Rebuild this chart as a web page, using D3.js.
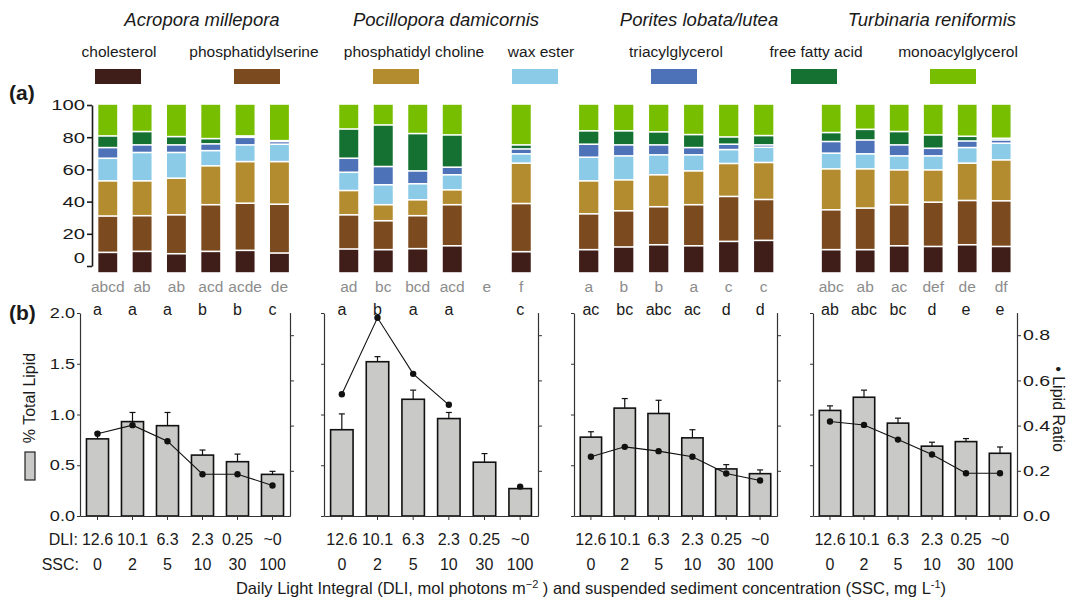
<!DOCTYPE html>
<html>
<head>
<meta charset="utf-8">
<script src="https://cdn.jsdelivr.net/npm/d3@7"></script>
<style>
  body { margin: 0; background: #fff; }
  svg { display: block; font-family: "Liberation Sans", Arial, Helvetica, sans-serif; }
</style>
</head>
<body>
<svg id="chart" width="1077" height="600"></svg>
<script>
// ---------- data ----------
const species = ["Acropora millepora", "Pocillopora damicornis", "Porites lobata/lutea", "Turbinaria reniformis"];
const lipidClasses = ["cholesterol", "phosphatidylserine", "phosphatidyl choline", "wax ester",
                      "triacylglycerol", "free fatty acid", "monoacylglycerol"];
const lipidColors = ["#3f1d18", "#7b4a1f", "#b48c30", "#8bcbe7", "#4e72b8", "#147131", "#78be00"];
const dliLabels = ["12.6", "10.1", "6.3", "2.3", "0.25", "~0"];
const sscLabels = ["0", "2", "5", "10", "30", "100"];

// lipid class composition (%), one row per treatment, classes from bottom to top
const compAcropora = [
  [12.2, 21.5, 20.8, 13.4, 6.3, 6.9, 18.9],
  [12.8, 21.1, 20.6, 16.8, 4.5, 7.9, 16.3],
  [11.4, 23.0, 21.7, 15.2, 4.5, 4.9, 19.3],
  [12.8, 27.6, 23.0,  9.0, 4.0, 3.1, 20.5],
  [13.4, 27.9, 24.6,  9.9, 4.5, 0.8, 18.9],
  [11.8, 28.9, 25.2, 10.3, 1.6, 0.5, 21.7]
];
const compPocillopora = [
  [14.2, 20.2, 14.4, 10.8,  8.3, 17.3, 14.8],
  [13.8, 17.1,  9.5, 11.8, 10.8, 24.6, 12.4],
  [14.4, 19.5,  9.4,  9.5,  7.6, 22.1, 17.5],
  [16.1, 24.3,  8.8,  8.9,  4.5, 19.1, 18.3],
  null,
  [12.6, 28.5, 23.9,  5.5,  2.9,  2.4, 24.2]
];
const compPorites = [
  [13.8, 21.2, 19.5, 14.0, 7.7, 7.9, 15.9],
  [15.4, 21.4, 18.3, 14.2, 6.5, 8.3, 15.9],
  [16.7, 22.5, 18.9, 11.8, 5.9, 7.7, 16.5],
  [16.1, 24.3, 20.0,  9.5, 4.3, 7.7, 18.1],
  [18.7, 26.6, 19.5,  8.2, 3.2, 4.3, 19.5],
  [19.3, 24.2, 21.9,  9.0, 1.4, 5.5, 18.7]
];
const compTurbinaria = [
  [13.8, 23.6, 24.2, 9.3, 6.9, 5.3, 16.9],
  [13.8, 24.6, 23.2, 8.9, 8.2, 6.3, 15.0],
  [16.1, 24.3, 20.6, 8.3, 6.5, 7.9, 16.3],
  [15.7, 26.2, 19.1, 8.3, 4.5, 7.9, 18.3],
  [16.7, 26.2, 22.1, 9.2, 3.9, 2.8, 19.1],
  [15.7, 27.0, 24.2, 9.9, 1.9, 1.0, 20.3]
];
const compLetters = [
  ["abcd", "ab", "ab", "acd", "acde", "de"],
  ["ad", "bc", "bcd", "acd", "e", "f"],
  ["a", "b", "b", "a", "c", "c"],
  ["abc", "ab", "ac", "def", "de", "df"]
];

// total lipid (% of tissue), mean and standard error
const totalAcropora    = [0.76, 0.93, 0.89, 0.60, 0.535, 0.41];
const totalPocillopora = [0.85, 1.52, 1.15, 0.96, 0.53, 0.27];
const totalPorites     = [0.777, 1.063, 1.01, 0.77, 0.464, 0.417];
const totalTurbinaria  = [1.04, 1.17, 0.915, 0.688, 0.733, 0.618];
const seAcropora    = [0.06, 0.09, 0.13, 0.05, 0.075, 0.03];
const sePocillopora = [0.156, 0.05, 0.09, 0.06, 0.085, 0];
const sePorites     = [0.053, 0.094, 0.13, 0.08, 0.042, 0.037];
const seTurbinaria  = [0.045, 0.07, 0.049, 0.039, 0.03, 0.062];

// lipid ratio (storage : structural)
const ratioAcropora    = [0.364, 0.402, 0.331, 0.185, 0.185, 0.135];
const ratioPocillopora = [0.539, 0.877, 0.629, 0.492, null, 0.13];
const ratioPorites     = [0.262, 0.306, 0.287, 0.262, 0.188, 0.157];
const ratioTurbinaria  = [0.418, 0.403, 0.338, 0.272, 0.189, 0.189];
const totalLetters = [
  ["a", "a", "a", "b", "b", "c"],
  ["a", "b", "a", "a", "", "c"],
  ["ac", "bc", "abc", "ac", "d", "d"],
  ["ab", "abc", "bc", "d", "e", "e"]
];

const compData  = [compAcropora, compPocillopora, compPorites, compTurbinaria];
const totalData = [totalAcropora, totalPocillopora, totalPorites, totalTurbinaria];
const seData    = [seAcropora, sePocillopora, sePorites, seTurbinaria];
const ratioData = [ratioAcropora, ratioPocillopora, ratioPorites, ratioTurbinaria];

// ---------- layout ----------
const svg = d3.select("#chart");
const ink = "#1a1a1a";
const titleX = [202, 446, 699, 932];
const legendSwatchX = [118, 257, 396, 535, 674, 814, 953];
const legendLabelX  = [119, 254, 414, 541, 676, 816, 958];
const compRange = [[90.6, 296.6], [331.5, 538.5], [571.2, 781.2], [814.2, 1018.2]];
const panelRange = [[80, 290], [324, 538], [574, 777], [813, 1017]];

// widen glyphs horizontally while keeping each label's anchor point in place
function widen(sel, k) {
  sel.each(function () {
    const t = d3.select(this);
    const x = +(t.attr("x") || 0);
    t.attr("x", x / k).attr("transform", `scale(${k},1)`);
  });
}

// species titles
svg.selectAll("text.species").data(species).join("text")
  .attr("class", "species")
  .attr("x", (d, i) => titleX[i]).attr("y", 26)
  .attr("text-anchor", "middle").attr("font-size", 18.5).attr("font-style", "italic")
  .attr("fill", ink).text(d => d);

// legend
svg.selectAll("text.legend").data(lipidClasses).join("text")
  .attr("class", "legend")
  .attr("x", (d, i) => legendLabelX[i]).attr("y", 57)
  .attr("text-anchor", "middle").attr("font-size", 15.5).attr("fill", ink)
  .text(d => d);
svg.selectAll("rect.legend").data(lipidClasses).join("rect")
  .attr("class", "legend")
  .attr("x", (d, i) => legendSwatchX[i] - 23).attr("y", 69)
  .attr("width", 46).attr("height", 15)
  .attr("fill", (d, i) => lipidColors[i]);

// panel tags
svg.append("text").attr("x", 9).attr("y", 100).attr("font-size", 21).attr("font-weight", "bold")
  .attr("fill", ink).text("(a)");
svg.append("text").attr("x", 9).attr("y", 320).attr("font-size", 21).attr("font-weight", "bold")
  .attr("fill", ink).text("(b)");

// ---------- (a) lipid class composition ----------
const yComp = d3.scaleLinear().domain([0, 100]).range([273, 104]);
const yCompAxis = d3.scaleLinear().domain([0, 100]).range([266, 105]);

const axA = svg.append("g").attr("transform", "translate(92,0)")
  .call(d3.axisLeft(yCompAxis).tickValues([0, 20, 40, 60, 80, 100]).tickSize(5).tickSizeOuter(0).tickPadding(2));
axA.select(".domain").attr("stroke", ink).attr("stroke-width", 1.6);
axA.selectAll(".tick line").attr("stroke", ink).attr("stroke-width", 1.6);
axA.selectAll(".tick text").attr("font-size", 15).attr("fill", ink)
  .attr("font-family", "Liberation Sans, Arial, sans-serif")
  .attr("dy", d => d === 0 ? "-0.25em" : "0.32em")
  .call(widen, 1.35);

compData.forEach((rows, s) => {
  const x = d3.scaleBand().domain(d3.range(6)).range(compRange[s]).paddingInner(0.45).paddingOuter(0.225);
  const g = svg.append("g");
  rows.forEach((row, t) => {
    if (!row) return;
    const tops = d3.cumsum(row);
    const segs = row.map((v, k) => ({ k, y0: tops[k] - v, y1: tops[k] }));
    g.selectAll(null).data(segs).join("rect")
      .attr("x", x(t)).attr("width", x.bandwidth())
      .attr("y", d => yComp(d.y1) + 0.8)
      .attr("height", d => Math.max(0, yComp(d.y0) - yComp(d.y1) - 1.6))
      .attr("fill", d => lipidColors[d.k]);
  });
  g.selectAll("text").data(compLetters[s]).join("text")
    .attr("x", (d, i) => x(i) + x.bandwidth() / 2).attr("y", 292)
    .attr("text-anchor", "middle").attr("font-size", 15.5).attr("fill", "#8c8c8c")
    .text(d => d);
});

// ---------- (b) total lipid and lipid ratio ----------
const yTotal = d3.scaleLinear().domain([0, 2]).range([516, 313]);
const yRatio = d3.scaleLinear().domain([0, 0.9]).range([516, 312.6]);

totalData.forEach((vals, s) => {
  const [l, r] = panelRange[s];
  const x = d3.scaleBand().domain(d3.range(6)).range([l, r]).paddingInner(0.37).paddingOuter(0.185);
  const cx = i => x(i) + x.bandwidth() / 2;
  const g = svg.append("g");

  // bars
  g.selectAll("rect.bar").data(vals).join("rect")
    .attr("class", "bar")
    .attr("x", (d, i) => x(i)).attr("width", x.bandwidth())
    .attr("y", d => yTotal(d)).attr("height", d => yTotal(0) - yTotal(d))
    .attr("fill", "#c9c9c7").attr("stroke", "#111").attr("stroke-width", 1.6);

  // error bars (upper)
  const se = seData[s];
  const eb = g.selectAll("g.err").data(vals.map((v, i) => ({ i, v, e: se[i] })).filter(d => d.e > 0))
    .join("g").attr("class", "err").attr("stroke", "#111").attr("stroke-width", 1.2);
  eb.append("line").attr("x1", d => cx(d.i)).attr("x2", d => cx(d.i))
    .attr("y1", d => yTotal(d.v)).attr("y2", d => yTotal(d.v + d.e));
  eb.append("line").attr("x1", d => cx(d.i) - 3).attr("x2", d => cx(d.i) + 3)
    .attr("y1", d => yTotal(d.v + d.e)).attr("y2", d => yTotal(d.v + d.e));

  // lipid ratio line and points
  const ratio = ratioData[s];
  const line = d3.line().defined(d => d != null).x((d, i) => cx(i)).y(d => yRatio(d));
  g.append("path").attr("d", line(ratio)).attr("fill", "none").attr("stroke", "#111").attr("stroke-width", 1.1);
  g.selectAll("circle").data(ratio.map((v, i) => ({ v, i })).filter(d => d.v != null)).join("circle")
    .attr("cx", d => cx(d.i)).attr("cy", d => yRatio(d.v)).attr("r", 3.2).attr("fill", "#111");

  // significance letters
  g.selectAll("text.sig").data(totalLetters[s]).join("text")
    .attr("class", "sig")
    .attr("x", (d, i) => cx(i)).attr("y", 315)
    .attr("text-anchor", "middle").attr("font-size", 16).attr("fill", ink)
    .text(d => d);

  // left axis
  const axL = g.append("g").attr("transform", `translate(${l},0)`)
    .call(d3.axisLeft(yTotal).tickValues([0, 0.5, 1, 1.5, 2]).tickSize(3).tickSizeOuter(0).tickPadding(2)
      .tickFormat(s === 0 ? d3.format(".1f") : () => ""));
  // right axis
  const axR = g.append("g").attr("transform", `translate(${r},0)`)
    .call(d3.axisRight(yRatio).tickValues([0, 0.2, 0.4, 0.6, 0.8]).tickSize(4).tickSizeOuter(0).tickPadding(2)
      .tickFormat(s === 3 ? d3.format(".1f") : () => ""));
  // bottom axis
  const axB = g.append("g").attr("transform", `translate(0,${yTotal(0)})`)
    .call(d3.axisBottom(x).tickSize(4).tickSizeOuter(0).tickFormat(""));
  axB.selectAll(".tick").attr("transform", (d) => `translate(${cx(d)},0)`);

  [axL, axR, axB].forEach(a => {
    a.select(".domain").attr("stroke", "#333").attr("stroke-width", 1.2);
    a.selectAll(".tick line").attr("stroke", "#333");
    a.selectAll(".tick text").attr("font-size", 14.5).attr("fill", ink)
      .attr("font-family", "Liberation Sans, Arial, sans-serif");
  });
  axL.selectAll(".tick text").call(widen, 1.25);
  axR.selectAll(".tick text").call(widen, 1.35);
  axR.select(".tick:first-of-type line").remove();

  // treatment labels
  g.selectAll("text.dli").data(dliLabels).join("text")
    .attr("class", "dli").attr("x", (d, i) => cx(i)).attr("y", 545)
    .attr("text-anchor", "middle").attr("font-size", 16).attr("fill", ink).text(d => d);
  g.selectAll("text.ssc").data(sscLabels).join("text")
    .attr("class", "ssc").attr("x", (d, i) => cx(i)).attr("y", 570)
    .attr("text-anchor", "middle").attr("font-size", 16).attr("fill", ink).text(d => d);
});

svg.append("text").attr("x", 78).attr("y", 545).attr("text-anchor", "end")
  .attr("font-size", 16).attr("fill", ink).text("DLI:");
svg.append("text").attr("x", 79).attr("y", 570).attr("text-anchor", "end")
  .attr("font-size", 16).attr("fill", ink).text("SSC:");

// axis titles
const xt = svg.append("text").attr("x", 591).attr("y", 594).attr("text-anchor", "middle")
  .attr("font-size", 16.5).attr("fill", ink);
xt.append("tspan").text("Daily Light Integral (DLI, mol photons m");
xt.append("tspan").attr("dy", -6).attr("font-size", 11).text("\u22122");
xt.append("tspan").attr("dy", 6).text(" ) and suspended sediment concentration (SSC, mg L");
xt.append("tspan").attr("dy", -6).attr("font-size", 11).text("-1");
xt.append("tspan").attr("dy", 6).text(")");

svg.append("text").attr("transform", "translate(35,398) rotate(-90)")
  .attr("text-anchor", "middle").attr("font-size", 16).attr("fill", ink).text("% Total Lipid");
svg.append("rect").attr("x", 25).attr("y", 452).attr("width", 10).attr("height", 28)
  .attr("fill", "#c9c9c7").attr("stroke", "#222").attr("stroke-width", 1.2);

svg.append("text").attr("transform", "translate(1053,409) rotate(90)")
  .attr("text-anchor", "middle").attr("font-size", 16).attr("fill", ink).text("\u2022 Lipid Ratio");
</script>
</body>
</html>
